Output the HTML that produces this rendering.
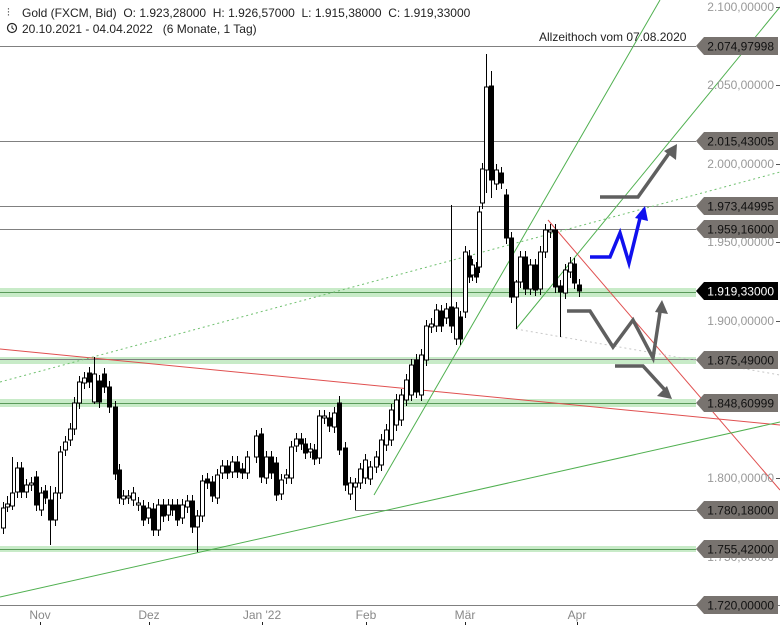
<!DOCTYPE html>
<html><head><meta charset="utf-8"><style>
html,body{margin:0;padding:0;background:#fff;}
svg{display:block;font-family:"Liberation Sans",sans-serif;}
.pre{white-space:pre;}
</style></head><body>
<svg id="c" width="780" height="625" viewBox="0 0 780 625" xmlns="http://www.w3.org/2000/svg">
<rect x="0" y="288" width="696" height="9" fill="#c8ebc8"/>
<rect x="0" y="357" width="696" height="7" fill="#c8ebc8"/>
<rect x="0" y="399" width="696" height="8" fill="#c8ebc8"/>
<rect x="0" y="546" width="696" height="6" fill="#c8ebc8"/>
<g stroke="#808080" stroke-width="1">
<line x1="0" y1="46.5" x2="696" y2="46.5"/>
<line x1="0" y1="141.5" x2="696" y2="141.5"/>
<line x1="0" y1="206.5" x2="696" y2="206.5"/>
<line x1="0" y1="229.5" x2="696" y2="229.5"/>
<line x1="0" y1="359.5" x2="696" y2="359.5"/>
<line x1="355" y1="510.5" x2="696" y2="510.5"/>
<line x1="0" y1="605.5" x2="780" y2="605.5"/>
</g>
<g stroke="#5a9a5a" stroke-width="1">
<line x1="0" y1="292.5" x2="696" y2="292.5"/>
<line x1="0" y1="403.5" x2="696" y2="403.5"/>
<line x1="0" y1="549.5" x2="696" y2="549.5"/>
</g>
<line x1="0" y1="349" x2="780" y2="425" stroke="#e05050" stroke-width="1"/>
<line x1="548" y1="220" x2="780" y2="490" stroke="#e05050" stroke-width="1"/>
<line x1="0" y1="597" x2="780" y2="422" stroke="#50b050" stroke-width="1"/>
<line x1="374" y1="495" x2="660" y2="0" stroke="#50b050" stroke-width="1"/>
<line x1="516" y1="329" x2="780" y2="7" stroke="#50b050" stroke-width="1"/>
<line x1="0" y1="382" x2="780" y2="172" stroke="#70c070" stroke-width="1" stroke-dasharray="2,3"/>
<line x1="516" y1="329" x2="780" y2="375" stroke="#c8c8c8" stroke-width="1" stroke-dasharray="2,3"/>
<g id="candles"></g>
<g fill="none" stroke-width="3.5" stroke-linejoin="miter">
<polyline points="600,197 638,197 670,152" stroke="#5f5f5f"/>
<polyline points="590,257 610,257 620,233 629,263 641,214" stroke="#1010ee"/>
<polyline points="567,311 590,311 613,347 633,320 653,358 660,312" stroke="#5f5f5f"/>
<polyline points="615,366 643,366 665,390" stroke="#5f5f5f"/>
</g>
<polygon points="677,144 676,160 664,151" fill="#5f5f5f"/>
<polygon points="645,206 648,221 635,218" fill="#1010ee"/>
<polygon points="662,300 668,314 655,312" fill="#5f5f5f"/>
<polygon points="672,399 657,396 667,386" fill="#5f5f5f"/>
<g font-size="12" fill="#222">
<text x="7" y="16" font-size="11">⫶</text>
<text class="pre" x="22" y="17">Gold (FXCM, Bid)  O: 1.923,28000  H: 1.926,57000  L: 1.915,38000  C: 1.919,33000</text>
<circle cx="12" cy="28" r="4.5" fill="none" stroke="#222" stroke-width="1.2"/>
<polyline points="12,25.5 12,28 14,29.5" fill="none" stroke="#222" stroke-width="1"/>
<text class="pre" x="22" y="33">20.10.2021 - 04.04.2022   (6 Monate, 1 Tag)</text>
<text x="539" y="41">Allzeithoch vom 07.08.2020</text>
</g>
<g font-size="12" fill="#999" text-anchor="end">
<text x="774" y="11">2.100,00000</text>
<text x="774" y="89">2.050,00000</text>
<text x="774" y="168">2.000,00000</text>
<text x="774" y="246">1.950,00000</text>
<text x="774" y="325">1.900,00000</text>
<text x="774" y="482">1.800,00000</text>
<text x="774" y="561">1.750,00000</text>
</g>
<g stroke="#555"><line x1="776" y1="7.5" x2="780" y2="7.5"/><line x1="776" y1="85.5" x2="780" y2="85.5"/><line x1="776" y1="164.5" x2="780" y2="164.5"/><line x1="776" y1="242.5" x2="780" y2="242.5"/><line x1="776" y1="321.5" x2="780" y2="321.5"/><line x1="776" y1="478.5" x2="780" y2="478.5"/></g>
<g id="tags" font-size="12" text-anchor="end"></g>
<g font-size="12" fill="#888" text-anchor="middle">
<text x="40" y="619">Nov</text><text x="149" y="619">Dez</text><text x="262" y="619">Jan '22</text>
<text x="366" y="619">Feb</text><text x="465" y="619">Mär</text><text x="577" y="619">Apr</text>
</g>
<g stroke="#222"><line x1="40.5" y1="622" x2="40.5" y2="625"/><line x1="149.5" y1="622" x2="149.5" y2="625"/><line x1="262.5" y1="622" x2="262.5" y2="625"/><line x1="366.5" y1="622" x2="366.5" y2="625"/><line x1="465.5" y1="622" x2="465.5" y2="625"/><line x1="577.5" y1="622" x2="577.5" y2="625"/></g>
</svg>
<script>
var NS="http://www.w3.org/2000/svg";
function el(p,n,a){var e=document.createElementNS(NS,n);for(var k in a)e.setAttribute(k,a[k]);p.appendChild(e);return e;}
var C=[[3,508,528,1],[7,504,507,1,496,512],[12,493,506,1,457,510],[17,468,492,1],[21,468,492,0],[26,485,492,1],[31,483,485,1],[36,477,505,0],[41,493,510,1],[45,491,498,0],[50,500,520,0,486,545],[55,493,520,1],[60,452,493,1],[65,442,450,1],[70,429,440,1],[74,403,429,1],[79,382,403,1],[84,378,383,1],[89,373,382,0],[94,374,402,1,357,404],[99,381,402,0],[104,374,387,0],[109,387,407,0],[115,407,474,0],[119,470,498,0],[123,496,499,1],[128,496,498,1],[133,493,500,1],[138,503,505,1],[143,506,520,0],[148,508,518,1],[153,509,530,0],[158,505,530,1],[163,505,516,0],[168,505,515,1],[172,505,510,0],[177,505,520,0],[182,505,518,1],[187,501,507,1],[192,501,527,0],[197,516,527,1,510,552],[202,481,516,1],[207,479,483,0],[212,482,496,0],[217,475,498,1],[222,466,473,1],[227,466,473,0],[232,462,472,1],[237,462,472,0],[242,469,473,0],[247,457,473,1],[256,436,457,1],[261,434,477,0],[266,457,478,1],[271,457,473,0],[276,463,495,0],[281,480,494,1],[286,475,478,1],[291,447,478,1],[296,439,446,1],[301,439,444,0],[305,444,453,0],[310,449,452,1],[314,450,459,0],[319,416,458,1],[324,416,418,1],[329,418,426,0],[334,413,427,1],[339,403,450,0,396,455],[345,448,485,0],[350,483,494,1],[355,483,487,1,478,510],[360,469,483,1],[365,460,478,1],[370,467,479,1],[376,457,467,1],[381,440,465,1],[386,430,445,1],[391,410,440,1],[396,400,425,1],[401,395,420,1],[406,380,400,1],[411,365,395,1],[416,360,392,0],[421,355,395,1],[426,326,360,1],[431,324,327,1],[436,310,326,1],[441,311,326,0],[446,309,318,1],[451,307,326,0,205,333],[456,308,339,1],[460,317,339,0],[465,252,312,1],[469,256,277,0],[472,265,275,1],[476,268,277,0],[479,212,267,1],[482,169,203,1],[486,87,170,1,54,193],[491,86,180,0,71,198],[496,170,184,1],[501,173,183,0],[506,195,238,0],[511,238,297,0],[516,282,297,1,280,329],[520,257,282,1],[525,257,289,0],[530,265,289,1],[535,265,290,0],[540,252,289,1],[545,230,252,1],[550,230,232,1],[555,230,287,0],[560,286,292,0,280,337],[565,270,293,1],[570,263,272,1],[574,264,283,0],[579,285,291,0]];
var g=document.getElementById("candles");
C.forEach(function(c){var x=c[0],t=c[1],b=c[2],w=c[3];var wt=c.length>4?c[4]:t-6,wb=c.length>5?c[5]:b+6;
el(g,"line",{x1:x+0.5,y1:wt,x2:x+0.5,y2:wb,stroke:"#000","stroke-width":1});
var h=Math.max(b-t,1);
el(g,"rect",{x:x-1.5,y:t,width:4,height:h,fill:w?"#fff":"#000",stroke:"#000","stroke-width":1});});
var T=[["2.074,97998",46],["2.015,43005",141],["1.973,44995",206],["1.959,16000",229],["1.919,33000",291,1],["1.875,49000",360],["1.848,60999",403],["1.780,18000",510],["1.755,42000",549],["1.720,00000",605]];
var tg=document.getElementById("tags");
T.forEach(function(t){var y=t[1],k=t[2];
el(tg,"polygon",{points:"696,"+y+" 704,"+(y-9)+" 778,"+(y-9)+" 778,"+(y+9)+" 704,"+(y+9),fill:k?"#000":"#78736f"});
var tx=el(tg,"text",{x:774,y:y+4.5,fill:k?"#fff":"#111"});tx.textContent=t[0];});
</script>
</body></html>
